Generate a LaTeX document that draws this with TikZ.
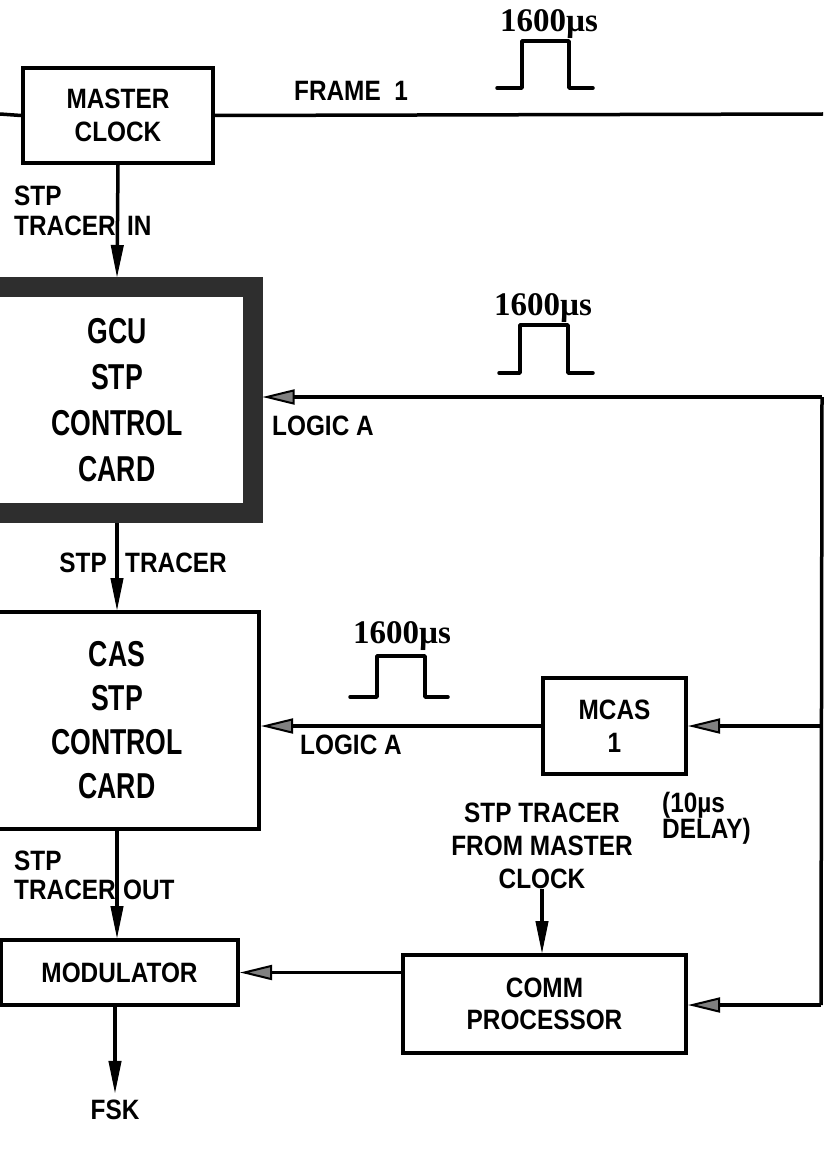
\documentclass[tikz,border=0pt]{standalone}
\usepackage{fontspec}
\setmainfont{Liberation Sans}
\newfontfamily\lblfam{Liberation Sans}[FakeStretch=0.87]
\newfontfamily\bigfam{Liberation Sans}[FakeStretch=0.74]
\newfontfamily\pulsefam{Liberation Serif}
\newcommand\lbltxt{\lblfam\bfseries\fontsize{28}{33}\selectfont}
\newcommand\bigtxt{\bigfam\bfseries\fontsize{36}{46}\selectfont}
\newcommand\pulsetxt{\pulsefam\bfseries\fontsize{33}{36}\selectfont}
\usetikzlibrary{arrows.meta}
\begin{document}
\begin{tikzpicture}[x=1pt,y=-1pt,
  box/.style={draw, line width=4pt, inner sep=0pt, font=\lbltxt, align=center},
  conn/.style={line width=3.5pt},
  arr/.style={conn, -{Triangle[length=32pt,width=13pt,line width=1pt]}},
  harr/.style={conn, -{Triangle[length=32pt,width=15pt,line width=2pt,fill=black!50]}},
  lbl/.style={font=\lbltxt, inner sep=0pt},
  pulselbl/.style={font=\pulsetxt, inner sep=0pt, anchor=base},
  pulse/.style={line width=3.5pt, line join=round, line cap=round}
]
\useasboundingbox (0,0) rectangle (823,1169);

% boxes
\node[box, minimum width=190pt, minimum height=95pt] (master) at (118,115.5) {MASTER\\CLOCK};
\node[draw=black!82, line width=20pt, inner sep=0pt, minimum width=271pt, minimum height=226pt,
      font={\bigtxt}, align=center] (gcu) at (117,400) {GCU\\STP\\CONTROL\\CARD};
\node[box, minimum width=284pt, minimum height=217pt, font={\bigfam\bfseries\fontsize{36}{44}\selectfont}]
      (cas) at (117,720.5) {CAS\\STP\\CONTROL\\CARD};
\node[box, minimum width=143pt, minimum height=96pt] (mcas) at (614.5,726) {MCAS\\1};
\node[box, minimum width=283pt, minimum height=98pt, font={\lblfam\bfseries\fontsize{28}{32}\selectfont}]
      (comm) at (544.5,1004) {COMM\\PROCESSOR};
\node[box, minimum width=237pt, minimum height=65pt] (mod) at (119.5,972.5) {MODULATOR};

% free ends
\coordinate (ls) at (0,114);
\coordinate (fe) at (823,114);
\coordinate (r1) at (822,397);
\coordinate (r2) at (821,726);
\coordinate (r3) at (821,1005);

% labels
\node[lbl] (frame) at (351,91) {FRAME\ \ 1};
\node[lbl, anchor=base west] (stp1) at (14,205) {STP};
\node[lbl, anchor=base west] (tr1) at (14,235) {TRACER};
\node[lbl, anchor=base west] (in1) at (127,235) {IN};
\node[lbl, anchor=base west] (la1) at (272,435) {LOGIC A};
\node[lbl, anchor=base east] (stp2) at (107,572) {STP};
\node[lbl, anchor=base west] (tr2) at (125,572) {TRACER};
\node[lbl, anchor=base west] (la2) at (300,754) {LOGIC A};
\node[lbl, anchor=base west] (dl1) at (662,812) {(10µs};
\node[lbl, anchor=base west] (dl2) at (662,838) {DELAY)};
\node[lbl, align=center] (stpfm) at (542,846) {STP TRACER\\FROM MASTER\\CLOCK};
\node[lbl, anchor=base west] (stp3) at (14,870) {STP};
\node[lbl, anchor=base west] (tr3) at (14,899) {TRACER};
\node[lbl, anchor=base west] (out3) at (123,899) {OUT};
\node[lbl] (fsk) at (115,1110) {FSK};

% pulses
\node[pulselbl] (p1) at (549,32) {1600µs};
\draw[pulse] (497,88) -- (522,88) -- (522,41) -- (569,41) -- (569,88) -- (593,88);
\node[pulselbl] (p2) at (543,315) {1600µs};
\draw[pulse] (499,373) -- (520,373) -- (520,325) -- (568,325) -- (568,373) -- (593,373);
\node[pulselbl] (p3) at (402,643) {1600µs};
\draw[pulse] (350,697) -- (377,697) -- (377,656) -- (425,656) -- (425,697) -- (448,697);

% connectors
\draw[conn] (ls) -- (master.west);
\draw[conn] (master.east) -- (fe);
\draw[arr] (master.south) -- (gcu.north);
\draw[arr] (gcu.south) -- (cas.north);
\draw[arr] (cas.south) -- (cas.south |- mod.north);
\draw[arr] (mod.south -| fsk) -- ([yshift=7pt]fsk.north);
\draw[conn] (r1) -- (r3);
\draw[harr] (r1) -- (r1 -| gcu.east);
\draw[harr] (r2) -- (mcas.east);
\draw[harr] (mcas.west) -- (mcas.west -| cas.east);
\draw[harr] (r3) -- (r3 -| comm.east);
\draw[harr] (comm.west |- mod.east) -- (mod.east);
\draw[arr] (stpfm.south) -- (stpfm.south |- comm.north);
\end{tikzpicture}
\end{document}
